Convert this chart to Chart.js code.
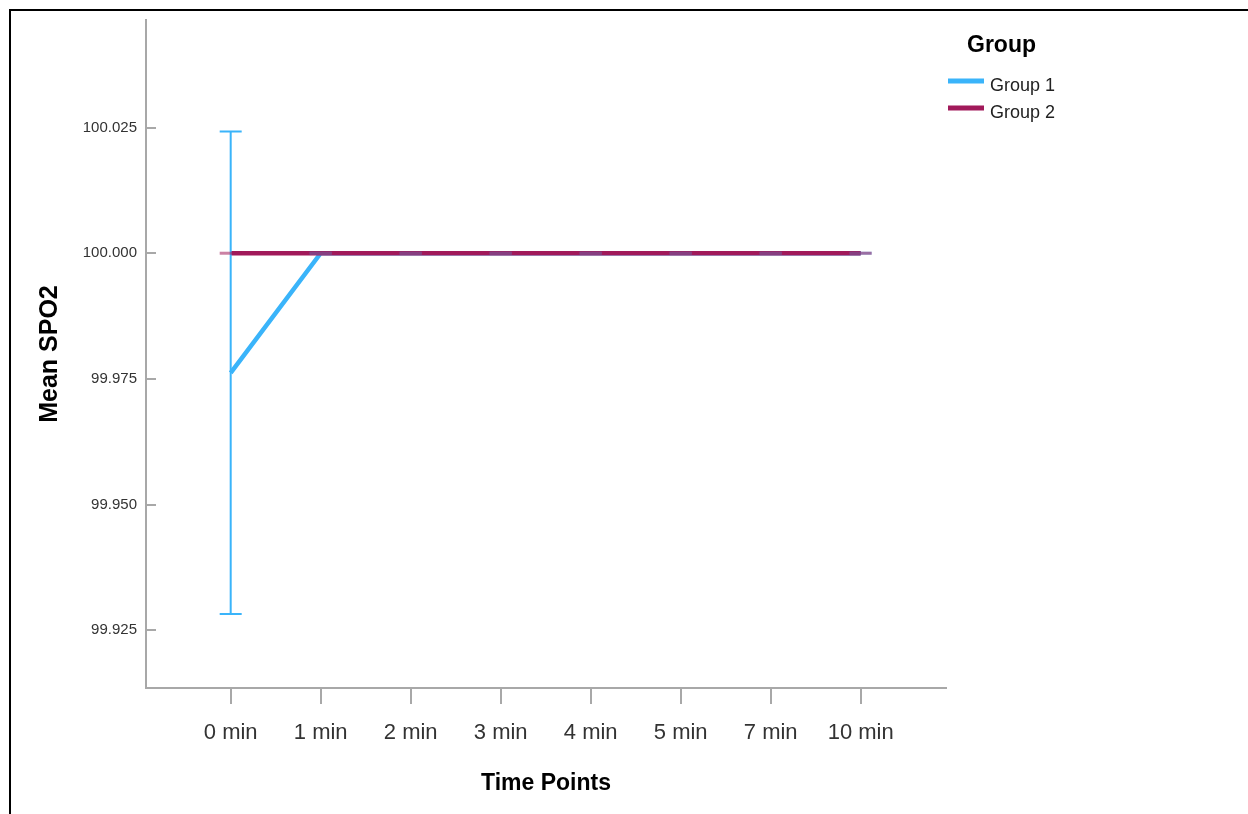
<!DOCTYPE html>
<html><head><meta charset="utf-8">
<script src="https://cdn.jsdelivr.net/npm/chart.js@4/dist/chart.umd.min.js"></script>
<style>
html,body{margin:0;padding:0;background:#fff;}
#wrap{position:relative;width:1248px;height:814px;overflow:hidden;}
#frame{position:absolute;left:9px;top:9px;right:0;bottom:0;border-top:2px solid #000;border-left:2px solid #000;pointer-events:none;}
</style>
</head><body>
<div id="wrap"><canvas id="c" width="1248" height="814"></canvas><div id="frame"></div></div>
<script>
// ---- data ----
const timeLabels = ['0 min','1 min','2 min','3 min','4 min','5 min','7 min','10 min'];
const group1Mean  = [99.9762, 100, 100, 100, 100, 100, 100, 100];
const group1Lower = [99.9282, 100, 100, 100, 100, 100, 100, 100];
const group1Upper = [100.0242, 100, 100, 100, 100, 100, 100, 100];
const group2Mean  = [100, 100, 100, 100, 100, 100, 100, 100];
const group2Lower = [100, 100, 100, 100, 100, 100, 100, 100];
const group2Upper = [100, 100, 100, 100, 100, 100, 100, 100];
const yTickValues = [99.925, 99.950, 99.975, 100.000, 100.025];
const seriesNames = ['Group 1', 'Group 2'];
const legendTitle = 'Group';
const xTitle = 'Time Points';
const yTitle = 'Mean SPO2';

const BLUE = '#3AB4FA';
const MAROON = '#A1195A';
const FONT = '"Liberation Sans", Arial, sans-serif';

const toPts = arr => arr.map((v, i) => ({x: i, y: v}));

const extras = {
  id: 'extras',
  afterDatasetsDraw(chart) {
    const ctx = chart.ctx, xs = chart.scales.x, ys = chart.scales.y;
    const sets = [
      {lo: group1Lower, hi: group1Upper, color: BLUE, rgba: 'rgba(58,180,250,0.55)'},
      {lo: group2Lower, hi: group2Upper, color: MAROON, rgba: 'rgba(161,25,90,0.55)'}
    ];
    ctx.save();
    ctx.lineCap = 'butt';
    sets.forEach(s => {
      for (let i = 0; i < timeLabels.length; i++) {
        const x = xs.getPixelForValue(i);
        const yl = ys.getPixelForValue(s.lo[i]);
        const yh = ys.getPixelForValue(s.hi[i]);
        if (Math.abs(yl - yh) > 0.5) {
          ctx.strokeStyle = s.color; ctx.lineWidth = 2;
          ctx.beginPath();
          ctx.moveTo(x, yl); ctx.lineTo(x, yh);
          ctx.moveTo(x - 11, yl); ctx.lineTo(x + 11, yl);
          ctx.moveTo(x - 11, yh); ctx.lineTo(x + 11, yh);
          ctx.stroke();
        } else {
          ctx.strokeStyle = s.rgba; ctx.lineWidth = 3;
          ctx.beginPath();
          ctx.moveTo(x - 11, yl); ctx.lineTo(x + 11, yl);
          ctx.stroke();
        }
      }
    });
    ctx.restore();
  },
  afterDraw(chart) {
    const ctx = chart.ctx, xs = chart.scales.x, ys = chart.scales.y, ca = chart.chartArea;
    ctx.save();
    // inward y tick marks
    ctx.strokeStyle = '#a8a8a8'; ctx.lineWidth = 2;
    ctx.beginPath();
    yTickValues.forEach(v => {
      const y = Math.round(ys.getPixelForValue(v));
      ctx.moveTo(ca.left, y); ctx.lineTo(ca.left + 10, y);
    });
    ctx.stroke();
    // axis titles
    ctx.fillStyle = '#000';
    ctx.font = 'bold 23px ' + FONT;
    ctx.textAlign = 'center'; ctx.textBaseline = 'alphabetic';
    ctx.fillText(xTitle, (ca.left + ca.right) / 2, 790);
    ctx.save();
    ctx.translate(57, (ca.top + ca.bottom) / 2);
    ctx.rotate(-Math.PI / 2);
    ctx.font = 'bold 25px ' + FONT;
    ctx.fillText(yTitle, 0, 0);
    ctx.restore();
    // legend
    ctx.textAlign = 'left';
    ctx.font = 'bold 23px ' + FONT;
    ctx.fillText(legendTitle, 967, 52);
    const colors = [BLUE, MAROON];
    ctx.font = '18px ' + FONT;
    ctx.fillStyle = '#222';
    seriesNames.forEach((n, k) => {
      const y = 81 + k * 27;
      ctx.strokeStyle = colors[k]; ctx.lineWidth = 5;
      ctx.beginPath(); ctx.moveTo(948, y); ctx.lineTo(984, y); ctx.stroke();
      ctx.fillText(n, 990, y + 10);
    });
    ctx.restore();
  }
};

new Chart(document.getElementById('c'), {
  type: 'line',
  data: {
    datasets: [
      {label: seriesNames[0], data: toPts(group1Mean), borderColor: BLUE, borderWidth: 4.5, pointRadius: 0, order: 1, tension: 0},
      {label: seriesNames[1], data: toPts(group2Mean), borderColor: MAROON, borderWidth: 4.5, pointRadius: 0, order: 0, tension: 0}
    ]
  },
  options: {
    responsive: false,
    animation: false,
    events: [],
    layout: {padding: {top: 20, right: 302, left: 0, bottom: 0}},
    plugins: {legend: {display: false}, tooltip: {enabled: false}},
    scales: {
      x: {
        type: 'linear',
        min: -0.941, max: 7.948,
        afterBuildTicks: s => { s.ticks = timeLabels.map((_, i) => ({value: i})); },
        afterFit: s => { s.height = 126; },
        ticks: {
          autoSkip: false, maxRotation: 0,
          callback: v => timeLabels[v],
          font: {family: FONT, size: 22}, color: '#333', padding: 16
        },
        grid: {display: true, drawOnChartArea: false, drawTicks: true, tickLength: 16, color: '#a8a8a8', lineWidth: 2},
        border: {display: true, color: '#a8a8a8', width: 2}
      },
      y: {
        min: 99.9135, max: 100.0464,
        afterBuildTicks: s => { s.ticks = yTickValues.map(v => ({value: v})); },
        afterFit: s => { s.width = 146; },
        ticks: {
          callback: v => v.toFixed(3),
          font: {family: FONT, size: 15}, color: '#333', padding: 9
        },
        grid: {display: false, drawTicks: false},
        border: {display: true, color: '#a8a8a8', width: 2}
      }
    }
  },
  plugins: [extras]
});
</script>
</body></html>
